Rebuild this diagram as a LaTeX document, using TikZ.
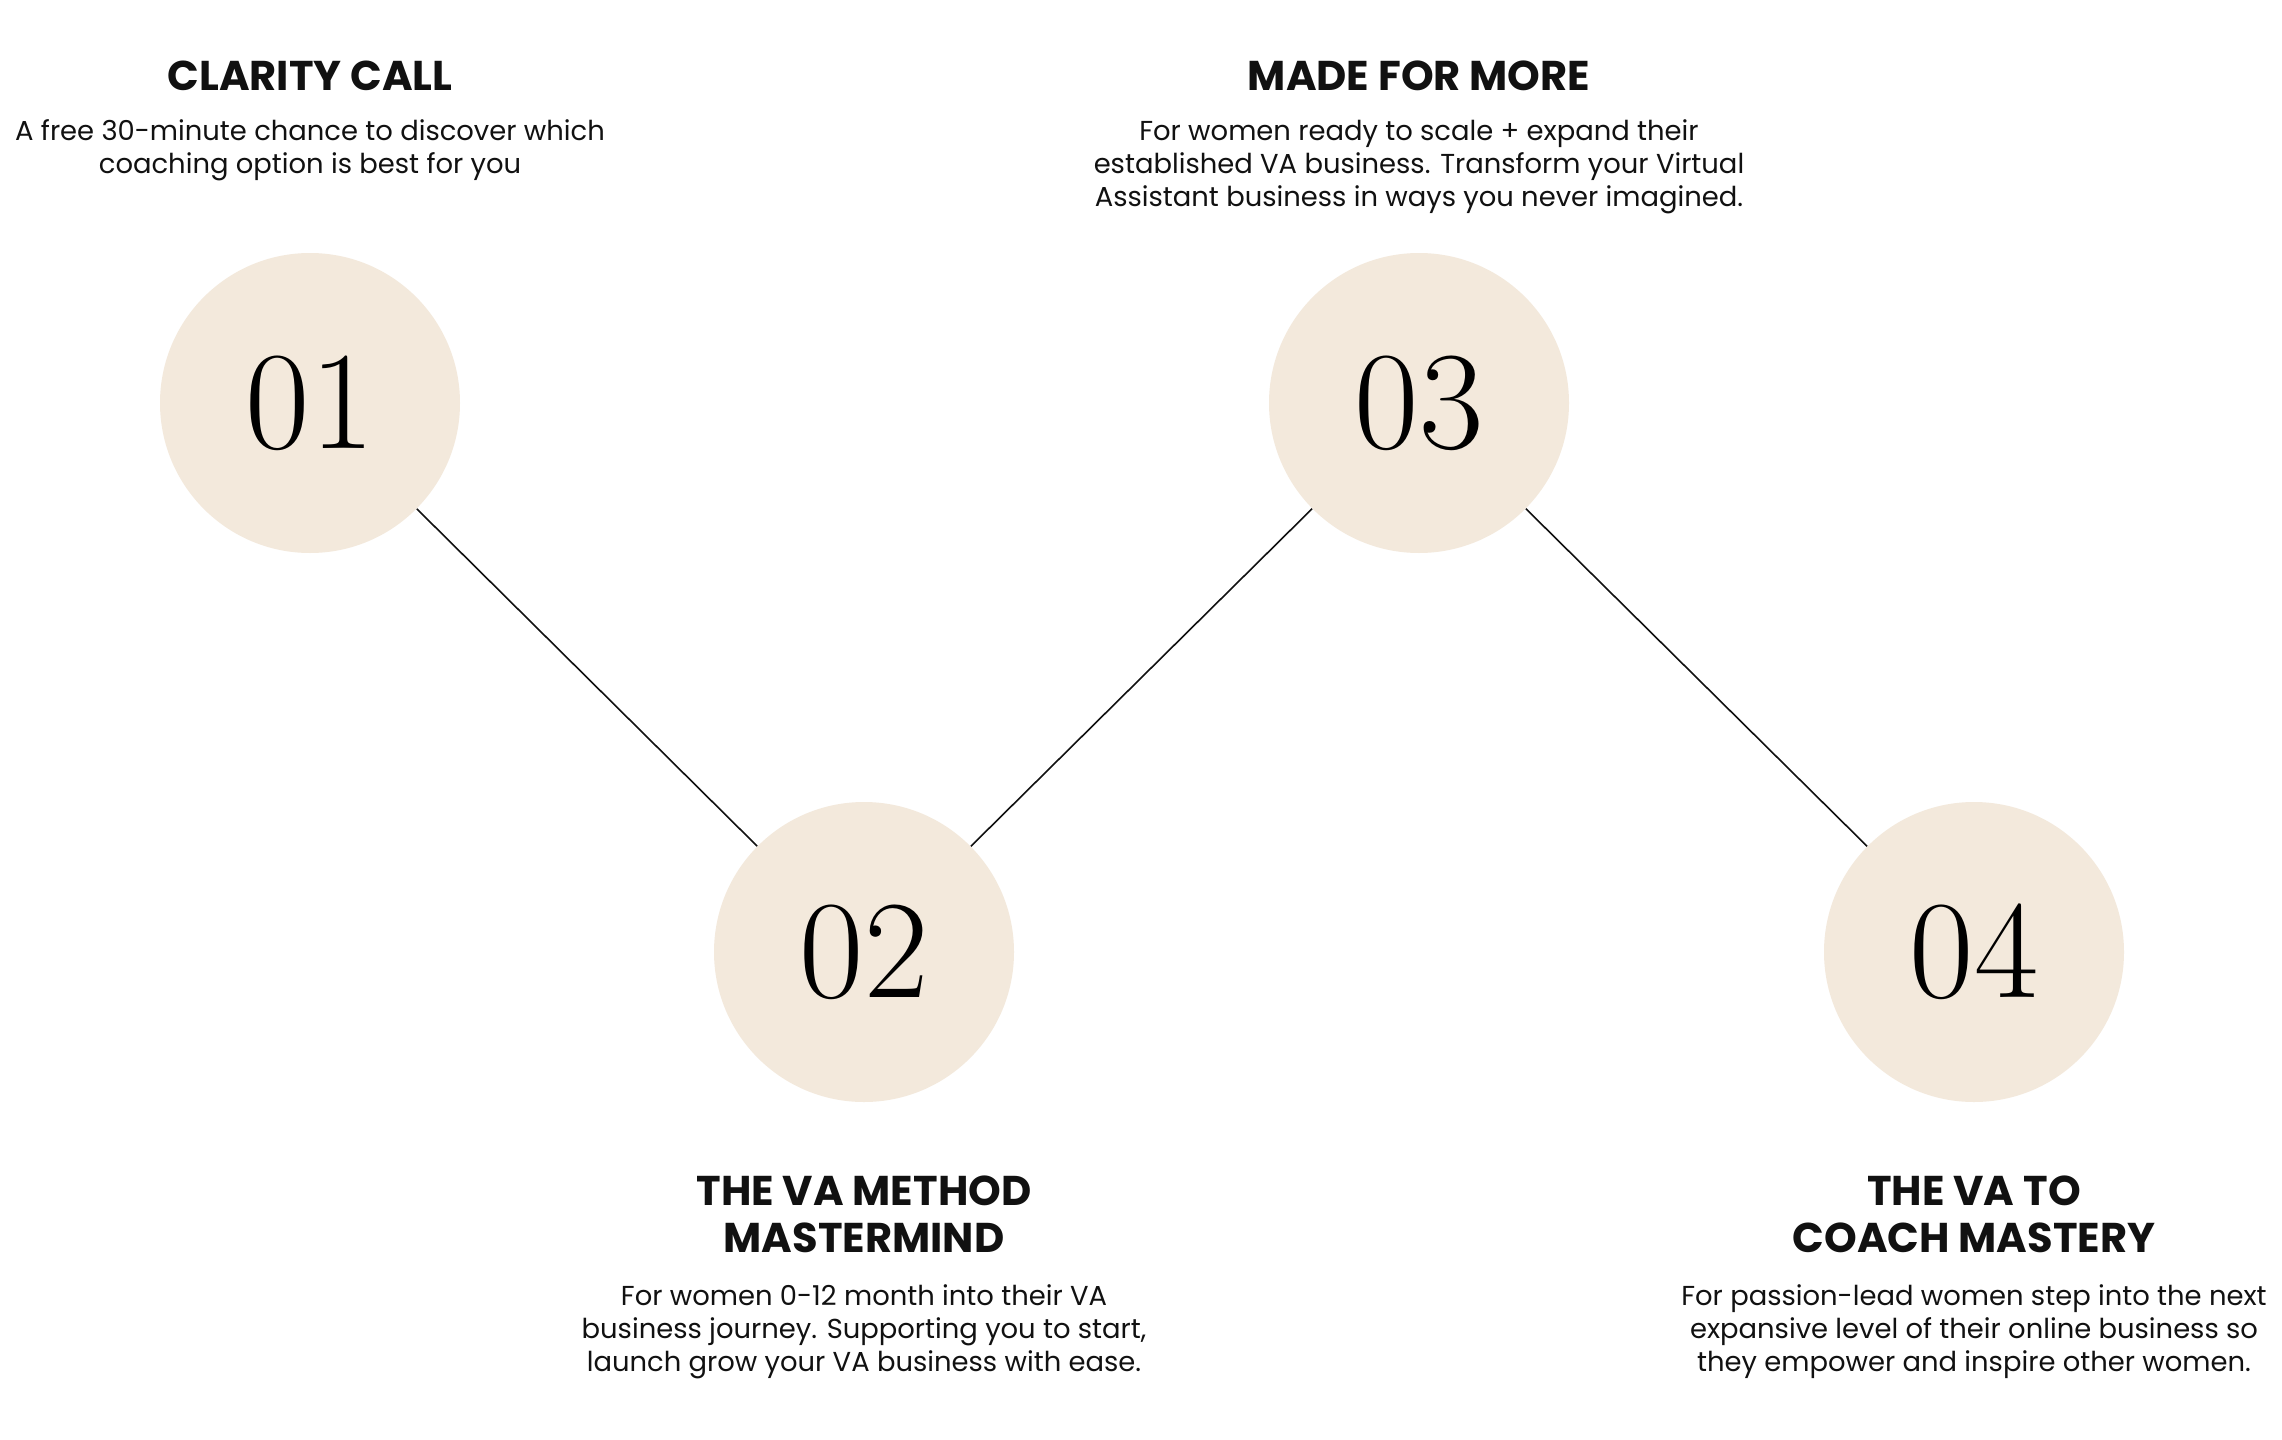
\documentclass[tikz,border=0pt]{standalone}
\usepackage{fontspec}
\setmainfont{Poppins}
\newfontfamily\numfont{Latin Modern Roman}
\definecolor{beige}{HTML}{F3E9DC}
\definecolor{ink}{HTML}{111111}
\tikzset{
  stepcircle/.style={circle, fill=beige, minimum size=150pt, inner sep=0pt, font=\numfont\fontsize{70}{70}\selectfont, text=black},
  heading/.style={align=center, font=\bfseries\fontsize{20.8}{23.5}\selectfont, text=ink, inner sep=0pt},
  body/.style={align=center, font=\fontsize{13.7}{16.6}\selectfont, text=ink, inner sep=0pt},
  link/.style={draw=ink, line width=0.8pt}
}
\begin{document}
\begin{tikzpicture}[x=0.5pt, y=-0.5pt]
\useasboundingbox[fill=white] (0,0) rectangle (2282,1440);
\node[stepcircle] (c1) at (310,403) {01};
\node[stepcircle] (c2) at (864,952) {02};
\node[stepcircle] (c3) at (1419,403) {03};
\node[stepcircle] (c4) at (1974,952) {04};
\draw[link] (c1) -- (c2);
\draw[link] (c2) -- (c3);
\draw[link] (c3) -- (c4);
\node[heading] (h1) at (310,76) {CLARITY CALL};
\node[body, anchor=north] (b1) at (310,119) {A free 30-minute chance to discover which\\coaching option is best for you};
\node[heading] (h3) at (1419,76) {MADE FOR MORE};
\node[body, anchor=north] (b3) at (1419,119) {For women ready to scale + expand their\\established VA business. Transform your Virtual\\Assistant business in ways you never imagined.};
\node[heading, anchor=north] (h2) at (864,1175) {THE VA METHOD\\MASTERMIND};
\node[body, anchor=north] (b2) at (864,1284) {For women 0-12 month into their VA\\business journey. Supporting you to start,\\launch grow your VA business with ease.};
\node[heading, anchor=north] (h4) at (1974,1175) {THE VA TO\\COACH MASTERY};
\node[body, anchor=north] (b4) at (1974,1284) {For passion-lead women step into the next\\expansive level of their online business so\\they empower and inspire other women.};
\end{tikzpicture}
\end{document}
